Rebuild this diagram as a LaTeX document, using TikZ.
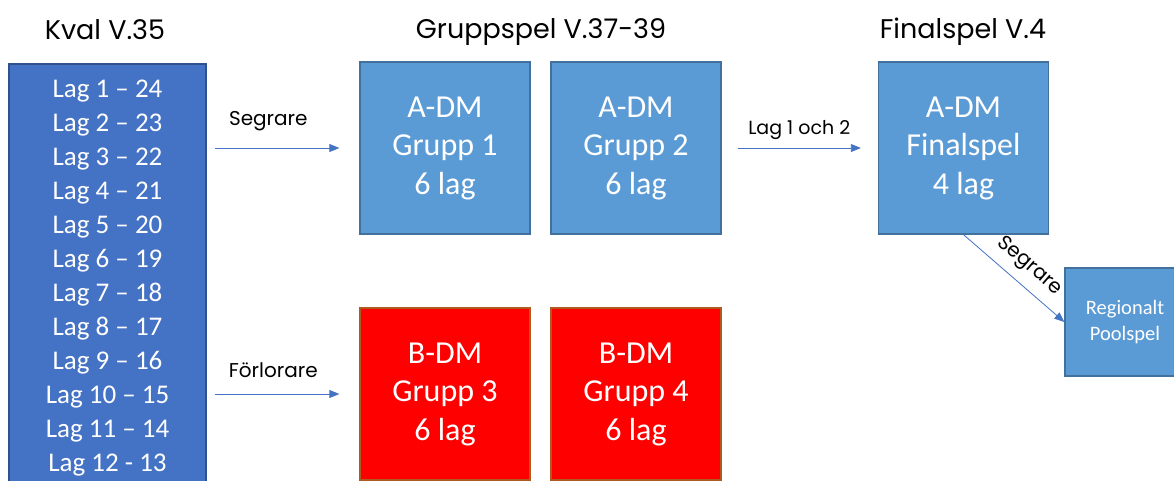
\documentclass[tikz,border=0pt]{standalone}
\usepackage{fontspec}
\setmainfont{Carlito}
\newfontfamily\headfont{Poppins}
\usetikzlibrary{arrows.meta}
\definecolor{kvalfill}{HTML}{4472C4}
\definecolor{kvaldraw}{HTML}{2F528F}
\definecolor{admfill}{HTML}{5B9BD5}
\definecolor{admdraw}{HTML}{41719C}
\definecolor{bdmfill}{HTML}{FF0000}
\definecolor{bdmdraw}{HTML}{AE5A21}
\newcommand{\boxw}{170}
\newcommand{\boxh}{172}

\tikzset{
  kvalbox/.style={draw=kvaldraw, fill=kvalfill, line width=1.3pt, text=white,
    align=center, inner sep=0pt, minimum width=197, minimum height=428,
    font=\fontsize{27}{34}\selectfont},
  admbox/.style={draw=admdraw, fill=admfill, line width=1.3pt, text=white,
    align=center, inner sep=0pt, minimum width=\boxw, minimum height=\boxh,
    font=\fontsize{32}{38.5}\selectfont},
  bdmbox/.style={admbox, draw=bdmdraw, fill=bdmfill},
  poolbox/.style={admbox, minimum width=120, minimum height=108,
    font=\fontsize{20.5}{26}\selectfont},
  rubrik/.style={font=\headfont\fontsize{27}{30}\selectfont},
  etikett/.style={font=\headfont\fontsize{20}{22}\selectfont, inner sep=0pt},
}
\tikzset{flow/.style={draw=kvalfill, line width=0.8pt, -{Triangle[length=10pt, width=8pt]}}}

\begin{document}
\begin{tikzpicture}[x=1pt, y=-1pt]
\clip (0,0) rectangle (1174,480);
\fill[white] (0,0) rectangle (1174,480);
% rubriker
\node[rubrik] (h1) at (105,30) {Kval V.35};
\node[rubrik] (h2) at (541,32) {Gruppspel V.37-39};
\node[rubrik] (h3) at (963,32) {Finalspel V.4};
% kval
\node[kvalbox] (kval) at (107.5,278) {Lag 1 -- 24\\Lag 2 -- 23\\Lag 3 -- 22\\Lag 4 -- 21\\Lag 5 -- 20\\Lag 6 -- 19\\Lag 7 -- 18\\Lag 8 -- 17\\Lag 9 -- 16\\Lag 10 -- 15\\Lag 11 -- 14\\Lag 12 - 13};
% gruppspel
\node[admbox] (g1) at (445,148) {A-DM\\Grupp 1\\6 lag};
\node[admbox] (g2) at (636,148) {A-DM\\Grupp 2\\6 lag};
\node[bdmbox] (g3) at (445,394) {B-DM\\Grupp 3\\6 lag};
\node[bdmbox] (g4) at (636,394) {B-DM\\Grupp 4\\6 lag};
% final
\node[admbox] (fin) at (963.5,148) {A-DM\\Finalspel\\4 lag};
\node[poolbox] (pool) at (1125,322) {Regionalt\\Poolspel};
% pilar
\draw[flow] ([xshift=8]kval.east |- g1.west) -- node[etikett, above=17pt, pos=0.43] (s1) {Segrare} ([xshift=-20]g1.west);
\draw[flow] ([xshift=8]kval.east |- g3.west) -- node[etikett, above=16pt, pos=0.47] (s2) {Förlorare} ([xshift=-20]g3.west);
\draw[flow] ([xshift=16]g2.east) -- node[etikett, font=\headfont\fontsize{19}{22}\selectfont, above=8pt] (s3) {Lag 1 och 2} ([xshift=-17]fin.west);
\draw[flow] (fin.south) -- node[etikett, sloped, above=9pt, pos=0.53] (s4) {Segrare} (pool.west);
\end{tikzpicture}
\end{document}
